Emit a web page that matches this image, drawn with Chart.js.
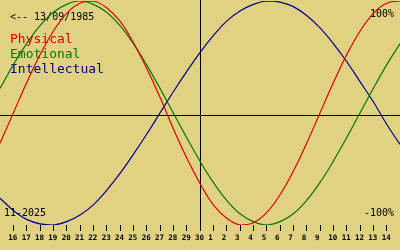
<!DOCTYPE html>
<html>
<head>
<meta charset="utf-8">
<script src="https://cdn.jsdelivr.net/npm/chart.js@4.4.0/dist/chart.umd.min.js"></script>
<style>
  html, body { margin: 0; padding: 0; background: #e0d282; }
  canvas { display: block; background: #e0d282; }
</style>
</head>
<body>
<canvas id="bio" width="400" height="250"></canvas>
<script>
// days shown: 15 Nov .. 15 Dec, centre line on the 30th
const dayLabels = ["15","16","17","18","19","20","21","22","23","24","25","26","27","28","29","30",
  "1","2","3","4","5","6","7","8","9","10","11","12","13","14","15"];
const physical = [-27,0,27,52,73,89,98,100,94,82,63,40,14,-14,-40,-63,
  -82,-94,-100,-98,-89,-73,-52,-27,0,27,52,73,89,98,100];
const emotional = [22,43,62,78,90,97,100,97,90,78,62,43,22,0,-22,-43,
  -62,-78,-90,-97,-100,-97,-90,-78,-62,-43,-22,0,22,43,62];
const intellectual = [-76,-87,-95,-99,-100,-97,-91,-82,-69,-54,-37,-19,0,19,37,54,
  69,82,91,97,100,99,95,87,76,62,46,28,10,-10,-28];
const todayIndex = 15;
const birthText = "<-- 13/09/1985";
const monthText = "11-2025";
const seriesNames = ["Physical", "Emotional", "Intellectual"];
const seriesColors = ["#dc0000", "#007a00", "#00008c"];

const MONO = "'DejaVu Sans Mono', monospace";

const overlay = {
  id: "overlay",
  beforeDatasetsDraw(chart) {
    const { ctx, scales: { x, y } } = chart;
    ctx.save();
    // cross lines (the horizontal one sits a touch below zero in the original)
    ctx.strokeStyle = "#000";
    ctx.lineWidth = 1;
    const cx = Math.round(x.getPixelForValue(todayIndex)) + 0.5;
    const cy = Math.round(y.getPixelForValue(0)) + 2.5;
    ctx.beginPath();
    ctx.moveTo(cx, 0); ctx.lineTo(cx, chart.chartArea.bottom);
    ctx.moveTo(0, cy); ctx.lineTo(chart.width, cy);
    ctx.stroke();

    ctx.textBaseline = "alphabetic";
    ctx.textAlign = "left";
    ctx.fillStyle = "#000";
    ctx.font = "10px " + MONO;
    ctx.fillText(birthText, 10, 20);
    ctx.fillText(monthText, 4, 216);
    ctx.textAlign = "right";
    ctx.fillText("100%", 394, 17);
    ctx.fillText("-100%", 394, 216);

    ctx.textAlign = "left";
    ctx.font = "13px " + MONO;
    seriesNames.forEach((n, i) => {
      ctx.fillStyle = seriesColors[i];
      ctx.fillText(n, 10, 42.5 + i * 15);
    });
    ctx.restore();
  }
};

const mk = (data, i) => ({
  label: seriesNames[i], data,
  borderColor: seriesColors[i], borderWidth: 1.2,
  pointRadius: 0, tension: 0.4, fill: false
});

new Chart(document.getElementById("bio"), {
  type: "line",
  data: {
    labels: dayLabels,
    datasets: [mk(physical, 0), mk(emotional, 1), mk(intellectual, 2)]
  },
  options: {
    responsive: false,
    animation: false,
    devicePixelRatio: 1,
    layout: { padding: { top: 1, left: 0, right: 0, bottom: 0 } },
    plugins: { legend: { display: false }, tooltip: { enabled: false } },
    scales: {
      x: {
        type: "category",
        offset: false,
        border: { display: false },
        grid: { drawOnChartArea: false, drawTicks: true, tickLength: 6, tickColor: "#000", tickWidth: 1 },
        ticks: {
          autoSkip: false, maxRotation: 0, minRotation: 0, padding: 3,
          align: "start", labelOffset: -5,
          color: "#000",
          font: { family: MONO, size: 7.5, weight: "bold" }
        },
        afterBuildTicks(scale) {
          scale.ticks = scale.ticks.filter(t => t.value > 0 && t.value < dayLabels.length - 1);
        },
        afterFit(scale) { scale.height = 25; }
      },
      y: { display: false, min: -100, max: 100 }
    }
  },
  plugins: [overlay]
});
</script>
</body>
</html>
